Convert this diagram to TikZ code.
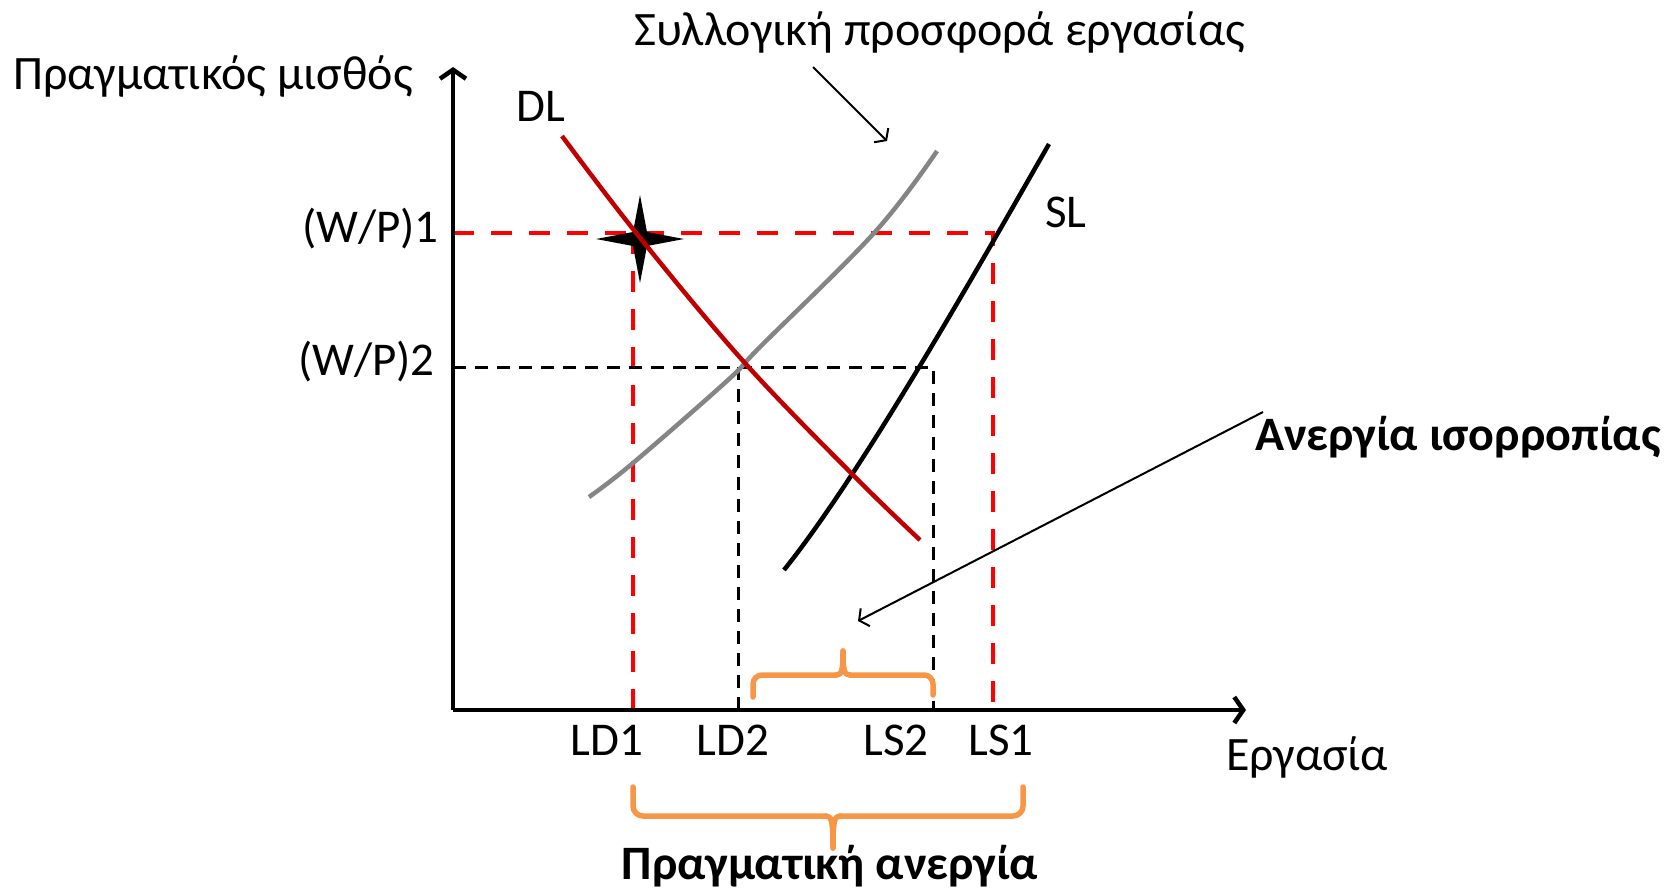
\documentclass[tikz,border=0pt]{standalone}
\usepackage{fontspec}
\setmainfont{Carlito}
\usetikzlibrary{arrows.meta}
\definecolor{dlred}{HTML}{C00000}
\definecolor{dashred}{HTML}{FF0000}
\definecolor{braceorange}{HTML}{F79646}
\definecolor{supgray}{HTML}{858585}
\begin{document}
\begin{tikzpicture}[x=1pt,y=-1pt,
  lbl/.style={inner sep=0pt, font=\fontsize{47}{56}\selectfont},
  glbl/.style={inner sep=0pt, font=\fontsize{48}{58}\selectfont},
  blbl/.style={inner sep=0pt, font=\fontsize{48}{58}\selectfont\bfseries},
  axisline/.style={line width=4.5pt, -{Straight Barb[length=9pt,width=26pt]}},
  thinarrow/.style={line width=2pt, -{Straight Barb[length=7pt,width=20pt]}},
  reddash/.style={dashred, line width=4.5pt, dash pattern=on 21pt off 17pt},
  blackdash/.style={black, line width=3pt, dash pattern=on 13pt off 9pt},
  curve/.style={line width=4.5pt},
  bracestyle/.style={braceorange, line width=5.5pt, line cap=round, line join=round}
]
\useasboundingbox (0,0) rectangle (1679,892);

% key coordinates
\coordinate (O) at (453,710);
\coordinate (Ytop) at (453,67);
\coordinate (Xend) at (1246,710);
\coordinate (W1) at (453,233);
\coordinate (W2) at (453,367);
\coordinate (W1end) at (993,233);
\coordinate (LS1b) at (993,710);
\coordinate (W2end) at (933,367);
\coordinate (LS2b) at (933,710);
\coordinate (LD1t) at (633,233);
\coordinate (LD1b) at (633,710);
\coordinate (LD2t) at (738,367);
\coordinate (LD2b) at (738,710);

% dashed guides
\draw[reddash] (W1) -- (W1end) -- (LS1b);
\draw[reddash] (LD1t) -- (LD1b);
\draw[blackdash] (W2) -- (W2end) -- (LS2b);
\draw[blackdash] (LD2t) -- (LD2b);

% star
\fill[black] (640,195) -- (647,232) -- (684,239) -- (647,246) -- (640,283) -- (633,246) -- (596,239) -- (633,232) -- cycle;

% curves
\draw[curve, supgray] plot[smooth, tension=0.6] coordinates {(589,497) (633,463) (728,380) (760,347) (875,232) (937,151)};
\draw[curve, black] (784,570) .. controls (864,470) and (979,266) .. (1049,144);
\draw[curve, dlred] plot[smooth, tension=0.6] coordinates {(562,136) (637,234) (744,362) (855,477) (920,540)};

% axes
\draw[axisline] (O) -- (Ytop);
\draw[axisline] (O) -- (Xend);

% labels
\node[glbl, anchor=base west] (ylab) at (13,89) {Πραγματικός μισθός};
\node[glbl, anchor=base] (suplab) at (940,45) {Συλλογική προσφορά εργασίας};
\node[lbl, anchor=base west] (dl) at (516,121) {DL};
\node[lbl, anchor=base west] (sl) at (1045,227) {SL};
\node[lbl, anchor=base east] (wp1) at (439,242) {(W/P)1};
\node[lbl, anchor=base east] (wp2) at (435,375) {(W/P)2};
\node[lbl, anchor=base] (ld1) at (607,755) {LD1};
\node[lbl, anchor=base] (ld2) at (733,755) {LD2};
\node[lbl, anchor=base] (ls2) at (896,755) {LS2};
\node[lbl, anchor=base] (ls1) at (1001,755) {LS1};
\node[glbl, anchor=base west] (xlab) at (1226,770) {Εργασία};
\node[blbl, anchor=base west] (eqlab) at (1255,450) {Ανεργία ισορροπίας};
\node[blbl, anchor=base] (reallab) at (830,879) {Πραγματική ανεργία};

% pointer arrows
\coordinate (a1s) at (813,67);
\coordinate (a1e) at (887,141);
\draw[thinarrow] (a1s) -- (a1e);
\coordinate (a2s) at (1263,412);
\coordinate (a2e) at (858,621);
\draw[thinarrow] (a2s) -- (a2e);

% small brace
\draw[bracestyle, rounded corners=9pt] (753,697) -- (753,675) -- (836,675);
\draw[bracestyle] (836,675) .. controls (842,675) and (843,670) .. (843,651);
\draw[bracestyle] (843,651) .. controls (843,670) and (844,675) .. (850,675);
\draw[bracestyle, rounded corners=9pt] (850,675) -- (933,675) -- (933,695);

% big brace
\draw[bracestyle, rounded corners=10pt] (633,787) -- (633,816) -- (826,816);
\draw[bracestyle] (826,816) .. controls (832,816) and (833,822) .. (833,848);
\draw[bracestyle] (833,848) .. controls (833,822) and (834,816) .. (840,816);
\draw[bracestyle, rounded corners=10pt] (840,816) -- (1023,816) -- (1023,787);
\end{tikzpicture}
\end{document}
